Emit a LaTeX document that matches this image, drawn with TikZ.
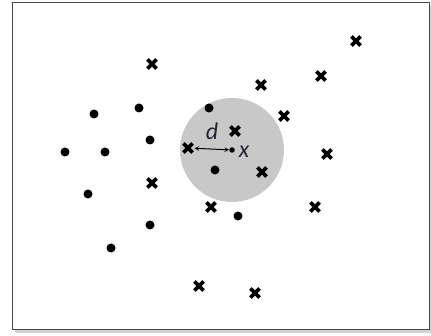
\documentclass[tikz,border=0pt]{standalone}
\usepackage{fontspec}
\newfontfamily\etiqfont{Carlito}
\usetikzlibrary{shapes.misc,positioning}

\begin{document}
\begin{tikzpicture}[x=1pt, y=-1pt]
		% Colores
		\definecolor{zonagris}{RGB}{200, 200, 200} % Vecindad sombreada
		\definecolor{marco}{RGB}{70, 70, 70}      % Borde del marco
		\definecolor{tinta}{RGB}{35, 35, 50}      % Texto de las etiquetas
		
		% Estilos de los puntos
		\tikzset{
			cruz/.style={cross out, draw, line width=3.6pt, minimum size=5.5pt, inner sep=0pt},
			punto/.style={circle, fill, minimum size=9pt, inner sep=0pt},
			etiq/.style={text=tinta, font=\etiqfont\itshape\fontsize{24}{24}\selectfont, inner sep=0pt}
		}
		
		\useasboundingbox (0,0) rectangle (431,336);
		
		% --- Marco con sombra ---
		\fill[gray!35] (15,6) rectangle (432,333);
		\fill[white] (12,3) rectangle (429,330);
		\draw[marco, line width=1pt] (12,3) rectangle (429,330);
		
		% --- Vecindad de x ---
		\coordinate (X) at (232, 150);
		\def\R{52} % Radio de la vecindad
		\fill[zonagris] (X) circle (\R);
		
		% --- Cruces ---
		\node[cruz] (c1) at (356, 41) {};
		\node[cruz] (c2) at (152, 64) {};
		\node[cruz] (c3) at (321, 76) {};
		\node[cruz] (c4) at (261, 85) {};
		\node[cruz] (c5) at (284, 116) {};
		\node[cruz] (c6) at (235, 131) {};
		\node[cruz] (c7) at (188, 148) {}; % el vecino mas cercano
		\node[cruz] (c8) at (327, 154) {};
		\node[cruz] (c9) at (262, 172) {};
		\node[cruz] (c10) at (152, 183) {};
		\node[cruz] (c11) at (211, 207) {};
		\node[cruz] (c12) at (315, 207) {};
		\node[cruz] (c13) at (199, 286) {};
		\node[cruz] (c14) at (255, 293) {};
		
		% --- Puntos ---
		\node[punto] (p1) at (94, 114) {};
		\node[punto] (p2) at (139, 108) {};
		\node[punto] (p3) at (209, 108) {};
		\node[punto] (p4) at (150, 140) {};
		\node[punto] (p5) at (65, 152) {};
		\node[punto] (p6) at (105, 152) {};
		\node[punto] (p7) at (215, 170) {};
		\node[punto] (p8) at (88, 194) {};
		\node[punto] (p9) at (238, 216) {};
		\node[punto] (p10) at (150, 225) {};
		\node[punto] (p11) at (111, 248) {};
		
		% --- Punto x y distancia d ---
		\node[punto, minimum size=5.5pt] (xc) at (X) {};
		\draw[<->, >=stealth, line width=1pt, shorten <=2pt] (c7) -- (xc);
		\node[etiq] (lx) at (244, 152) {x};
		\node[etiq] (ld) at (212, 131) {d};
		
	\end{tikzpicture}
\end{document}
